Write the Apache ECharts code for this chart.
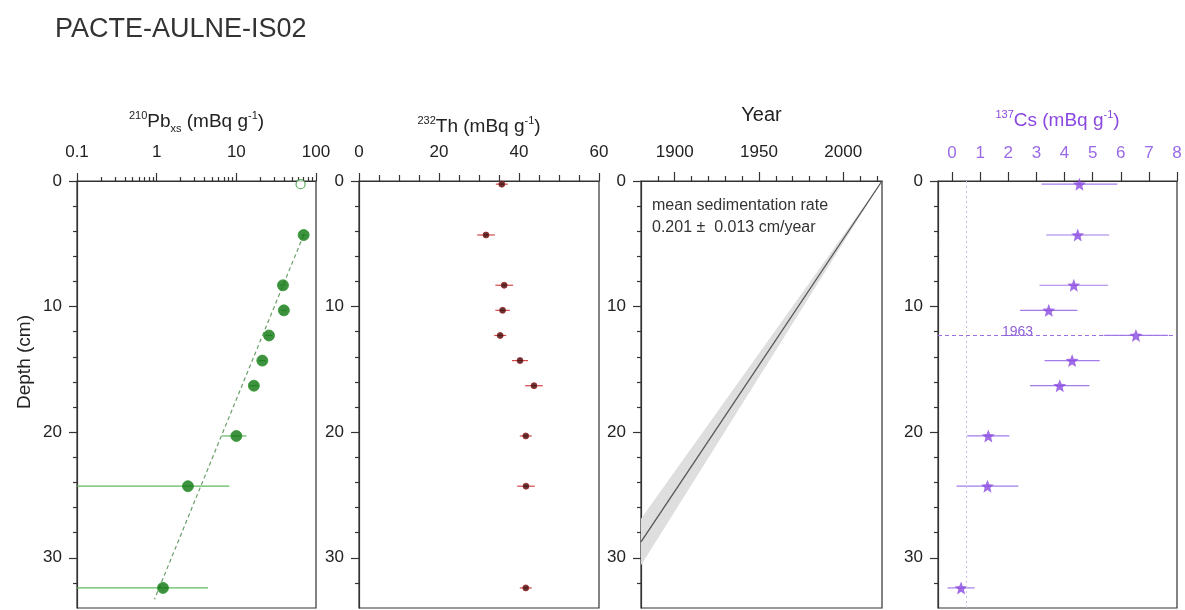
<!DOCTYPE html>
<html>
<head>
<meta charset="utf-8">
<script src="https://cdn.jsdelivr.net/npm/echarts/dist/echarts.min.js"></script>
<style>
html,body{margin:0;padding:0;background:#fff;}
#chart{width:1185px;height:610px;}
</style>
</head>
<body>
<div id="chart"></div>
<script>
// ---------------- DATA ----------------
const chartTitle = 'PACTE-AULNE-IS02';

// 210Pb excess (log scale)
const pbSurfaceDepth = [0.25];
const pbSurfaceValue = [64];
const pbDepth = [4.3, 8.3, 10.3, 12.3, 14.3, 16.3, 20.3, 24.3, 32.4];
const pbValue = [70, 38.5, 39.5, 25.7, 21.2, 16.6, 10.0, 2.47, 1.2];
const pbErr   = [4, 3, 3, 2.5, 2, 2, 3.4, 5.7, 3.2];
const pbFitDepth = [4.3, 33.3];
const pbFitValue = [70, 0.94];

// 232Th
const thDepth = [0.25, 4.3, 8.3, 10.3, 12.3, 14.3, 16.3, 20.3, 24.3, 32.4];
const thValue = [35.7, 31.75, 36.3, 35.9, 35.3, 40.25, 43.75, 41.7, 41.75, 41.7];
const thErr   = [1.5, 2.2, 2.2, 1.8, 1.5, 2.0, 2.2, 1.5, 2.2, 1.5];

// Age model
const sedRate = 0.201;
const sedRateErr = 0.013;
const coreYear = 2023;
const modelYears = [1880, 2023];

// 137Cs
const csDepth = [0.25, 4.3, 8.3, 10.3, 12.3, 14.3, 16.3, 20.3, 24.3, 32.4];
const csValue = [4.53, 4.47, 4.33, 3.44, 6.54, 4.27, 3.83, 1.29, 1.26, 0.32];
const csErr   = [1.35, 1.12, 1.22, 1.02, 1.15, 0.98, 1.06, 0.75, 1.1, 0.48];
const cs1963Depth = 12.25;
const cs1963Label = '1963';
const cs1963LabelPos = [2.33, 12.0];
const csDetectionLimit = 0.5;

// Axis ticks
const depthMajorTicks = [0, 10, 20, 30];
const depthMinorTicks = [2, 4, 6, 8, 12, 14, 16, 18, 22, 24, 26, 28, 32];
const pbMinorTicks = [0.2, 0.3, 0.4, 0.5, 0.6, 0.7, 0.8, 0.9, 2, 3, 4, 5, 6, 7, 8, 9, 20, 30, 40, 50, 60, 70, 80, 90];
const yearMajorTicks = [1900, 1950, 2000];
const yearMinorTicks = [1890, 1910, 1920, 1930, 1940, 1960, 1970, 1980, 1990, 2010, 2020];
const csTicks = [0, 1, 2, 3, 4, 5, 6, 7, 8];

// ---------------- STYLE ----------------
const FONT = '"Liberation Sans", Arial, sans-serif';
const AX = '#333';
const TXT = '#222';
const CS_COLOR = '#8a48e0';
const CS_TEXT = '#9a6ae6';

const chart = echarts.init(document.getElementById('chart'), null, {renderer: 'canvas'});

const grids = [
  {left: 77, top: 181, width: 239, height: 427},
  {left: 359, top: 181, width: 240, height: 427},
  {left: 641, top: 181, width: 241, height: 427},
  {left: 938, top: 181, width: 239, height: 427}
].map(g => Object.assign({show: true, borderColor: AX, borderWidth: 1.2, backgroundColor: 'transparent', containLabel: false}, g));

function nameRich(color) {
  return {
    m: {fontSize: 19, lineHeight: 24, color: color, fontFamily: FONT},
    sup: {fontSize: 11, lineHeight: 12, verticalAlign: 'top', color: color, fontFamily: FONT},
    sub: {fontSize: 11, lineHeight: 10, verticalAlign: 'bottom', color: color, fontFamily: FONT}
  };
}

const lineStyleAx = {color: AX, width: 1.2};

const xAxes = [
  // 0: Pb main
  {type: 'log', logBase: 10, gridIndex: 0, position: 'top', min: 0.1, max: 100,
   name: '{sup|210}{m|Pb}{sub|xs}{m| (mBq g}{sup|-1}{m|)}', nameLocation: 'middle', nameGap: 47,
   nameTextStyle: {rich: nameRich(TXT)},
   axisLine: {show: true, onZero: false, lineStyle: lineStyleAx},
   axisTick: {show: true, length: 8, lineStyle: lineStyleAx},
   axisLabel: {show: true, margin: 20, fontSize: 17, color: TXT, fontFamily: FONT},
   splitLine: {show: false}, minorTick: {show: false}},
  // 1: Pb minor ticks
  {type: 'log', logBase: 10, gridIndex: 0, position: 'top', min: 0.1, max: 100,
   axisLine: {show: false, onZero: false},
   axisTick: {show: true, length: 4, customValues: pbMinorTicks, lineStyle: lineStyleAx},
   axisLabel: {show: false}, splitLine: {show: false}},
  // 2: Th
  {type: 'value', gridIndex: 1, position: 'top', min: 0, max: 60, interval: 20,
   name: '{sup|232}{m|Th (mBq g}{sup|-1}{m|)}', nameLocation: 'middle', nameGap: 42,
   nameTextStyle: {rich: nameRich(TXT)},
   axisLine: {show: true, onZero: false, lineStyle: lineStyleAx},
   axisTick: {show: true, length: 8, lineStyle: lineStyleAx},
   minorTick: {show: true, splitNumber: 4, length: 6, lineStyle: lineStyleAx},
   axisLabel: {show: true, margin: 20, fontSize: 17, color: TXT, fontFamily: FONT},
   splitLine: {show: false}},
  // 3: Year main
  {type: 'value', gridIndex: 2, position: 'top', min: modelYears[0], max: modelYears[1],
   name: 'Year', nameLocation: 'middle', nameGap: 54,
   nameTextStyle: {fontSize: 20, lineHeight: 24, color: TXT, fontFamily: FONT},
   axisLine: {show: true, onZero: false, lineStyle: lineStyleAx},
   axisTick: {show: true, length: 9, customValues: yearMajorTicks, lineStyle: lineStyleAx},
   axisLabel: {show: true, margin: 20, fontSize: 17, color: TXT, fontFamily: FONT, customValues: yearMajorTicks,
     formatter: v => String(v)},
   splitLine: {show: false}},
  // 4: Year minor
  {type: 'value', gridIndex: 2, position: 'top', min: modelYears[0], max: modelYears[1],
   axisLine: {show: false, onZero: false},
   axisTick: {show: true, length: 5, customValues: yearMinorTicks, lineStyle: lineStyleAx},
   axisLabel: {show: false}, splitLine: {show: false}},
  // 5: Cs
  {type: 'value', gridIndex: 3, position: 'top', min: -0.5, max: 8,
   name: '{sup|137}{m|Cs (mBq g}{sup|-1}{m|)}', nameLocation: 'middle', nameGap: 48,
   nameTextStyle: {rich: nameRich(CS_COLOR)},
   axisLine: {show: true, onZero: false, lineStyle: lineStyleAx},
   axisTick: {show: true, length: 9, customValues: csTicks, lineStyle: lineStyleAx},
   axisLabel: {show: true, margin: 19, fontSize: 17, color: CS_TEXT, fontFamily: FONT, customValues: csTicks},
   splitLine: {show: false}}
];

const yAxes = [];
for (let g = 0; g < 4; g++) {
  yAxes.push({type: 'value', gridIndex: g, position: 'left', inverse: true, min: 0, max: 34,
    axisLine: {show: true, onZero: false, lineStyle: lineStyleAx},
    axisTick: {show: true, length: 8, customValues: depthMajorTicks, lineStyle: lineStyleAx},
    axisLabel: {show: true, margin: 15, fontSize: 17, color: TXT, fontFamily: FONT, customValues: depthMajorTicks},
    splitLine: {show: false}});
  yAxes.push({type: 'value', gridIndex: g, position: 'left', inverse: true, min: 0, max: 34,
    axisLine: {show: false, onZero: false},
    axisTick: {show: true, length: 4, customValues: depthMinorTicks, lineStyle: lineStyleAx},
    axisLabel: {show: false}, splitLine: {show: false}});
}

function zipPts(xs, ys, es) {
  return xs.map((v, i) => es ? [v, ys[i], es[i]] : [v, ys[i]]);
}

function errorBars(xIdx, yIdx, data, color, minX, maxX) {
  return {
    type: 'custom', xAxisIndex: xIdx, yAxisIndex: yIdx, data: data, silent: true, z: 2,
    encode: {x: 0, y: 1},
    renderItem: function (params, api) {
      const v = api.value(0), d = api.value(1), e = api.value(2);
      let lo = Math.max(v - e, minX), hi = Math.min(v + e, maxX);
      const p1 = api.coord([lo, d]), p2 = api.coord([hi, d]);
      return {type: 'line', shape: {x1: p1[0], y1: p1[1], x2: p2[0], y2: p2[1]},
        style: {stroke: color, lineWidth: 1.2}};
    }
  };
}

const starPath = 'path://M12 1 L14.9 8.6 L23 9.2 L16.8 14.3 L18.8 22.3 L12 17.9 L5.2 22.3 L7.2 14.3 L1 9.2 L9.1 8.6 Z';

const series = [
  // ---- Pb ----
  errorBars(0, 0, zipPts(pbValue, pbDepth, pbErr), '#5fb85f', 0.1, 100),
  {type: 'line', xAxisIndex: 0, yAxisIndex: 0, data: zipPts(pbFitValue, pbFitDepth),
   symbol: 'none', lineStyle: {color: '#6a9f6a', width: 1.2, type: [4, 3]}, z: 3, silent: true},
  {type: 'scatter', xAxisIndex: 0, yAxisIndex: 0, data: zipPts(pbValue, pbDepth),
   symbol: 'circle', symbolSize: 11, itemStyle: {color: '#0c760f', borderColor: '#2f962f', borderWidth: 1}, z: 4},
  {type: 'scatter', xAxisIndex: 0, yAxisIndex: 0, data: zipPts(pbSurfaceValue, pbSurfaceDepth),
   symbol: 'circle', symbolSize: 9, itemStyle: {color: '#fff', borderColor: '#3a9a3a', borderWidth: 1.2}, z: 4},
  // ---- Th ----
  errorBars(2, 2, zipPts(thValue, thDepth, thErr), '#d04a4a', 0, 60),
  {type: 'scatter', xAxisIndex: 2, yAxisIndex: 2, data: zipPts(thValue, thDepth),
   symbol: 'circle', symbolSize: 6, itemStyle: {color: '#3a0606', borderColor: '#a02525', borderWidth: 1}, z: 4},
  // ---- Age model ----
  {type: 'custom', xAxisIndex: 3, yAxisIndex: 4, data: [[modelYears[0], modelYears[1]]], silent: true, z: 2,
   renderItem: function (params, api) {
     const y0 = api.value(0), y1 = api.value(1);
     const pts = [
       api.coord([y0, (sedRate - sedRateErr) * (coreYear - y0)]),
       api.coord([y1, (sedRate - sedRateErr) * (coreYear - y1)]),
       api.coord([y0, (sedRate + sedRateErr) * (coreYear - y0)])
     ];
     return {type: 'polygon', shape: {points: pts}, style: {fill: '#dedede'}};
   }},
  {type: 'line', xAxisIndex: 3, yAxisIndex: 4, data: modelYears.map(y => [y, sedRate * (coreYear - y)]),
   symbol: 'none', lineStyle: {color: '#555', width: 1.3}, z: 3, silent: true},
  // ---- Cs ----
  errorBars(5, 6, zipPts(csValue, csDepth, csErr), '#a27ce8', -0.5, 8),
  {type: 'scatter', xAxisIndex: 5, yAxisIndex: 6, data: zipPts(csValue, csDepth),
   symbol: starPath, symbolSize: 13, itemStyle: {color: CS_COLOR}, z: 4,
   markLine: {
     silent: true, symbol: ['none', 'none'], label: {show: false},
     data: [
       {yAxis: cs1963Depth, lineStyle: {color: '#9a72e2', type: [4, 3], width: 1}},
       {xAxis: csDetectionLimit, lineStyle: {color: '#cbbde6', type: [2, 3], width: 1}}
     ]
   },
   markPoint: {
     silent: true, symbol: 'circle', symbolSize: 1, itemStyle: {color: 'rgba(0,0,0,0)'},
     label: {show: true, position: 'inside', formatter: cs1963Label, color: '#8f5fd9', fontSize: 14, fontFamily: FONT},
     data: [{coord: cs1963LabelPos}]
   }}
];

const option = {
  animation: false,
  backgroundColor: '#fff',
  title: {text: chartTitle, left: 50, top: 11,
    textStyle: {fontSize: 27, fontWeight: 'normal', color: '#333', fontFamily: FONT}},
  grid: grids,
  xAxis: xAxes,
  yAxis: yAxes,
  series: series,
  graphic: [
    {type: 'text', x: 25, y: 362, rotation: Math.PI / 2,
     style: {text: 'Depth (cm)', fontSize: 19, fill: TXT, fontFamily: FONT, align: 'center', verticalAlign: 'middle'}},
    {type: 'text', x: 652, y: 195,
     style: {text: 'mean sedimentation rate\n' + sedRate.toFixed(3) + ' \u00B1  ' + sedRateErr.toFixed(3) + ' cm/year',
       fontSize: 16, lineHeight: 22, fill: '#333', fontFamily: FONT, align: 'left', verticalAlign: 'top'}}
  ]
};

chart.setOption(option);
</script>
</body>
</html>
